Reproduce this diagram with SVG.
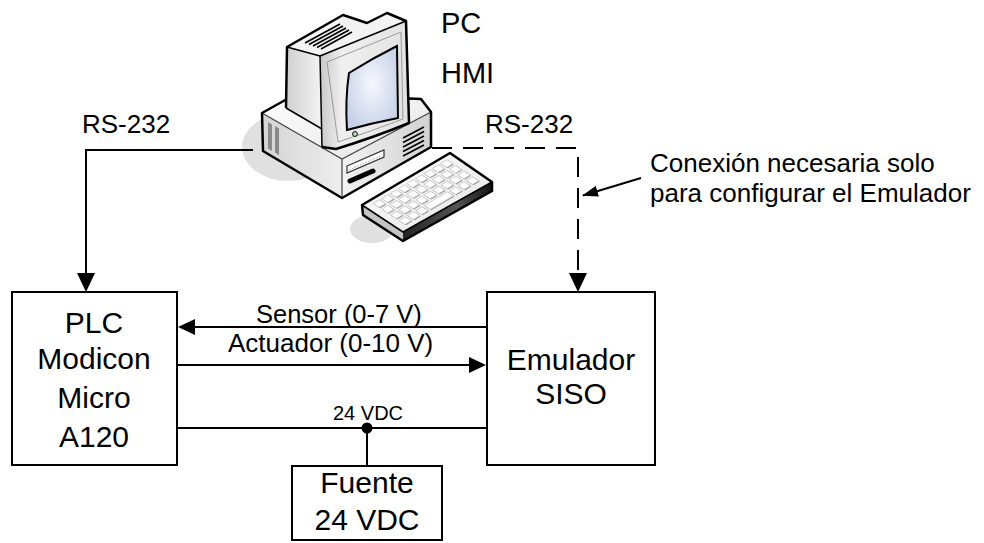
<svg xmlns="http://www.w3.org/2000/svg" width="984" height="543" viewBox="0 0 984 543">
<style>
.t{font-family:"Liberation Sans",Arial,Helvetica,sans-serif;fill:#000}
.lbl{font-size:30px;text-anchor:middle}
.box{fill:#fff;stroke:#000;stroke-width:2}
.w{fill:none;stroke:#000;stroke-width:2}
.k{fill:none;stroke:#000;stroke-width:2.5;stroke-linejoin:round}
.thin{fill:none;stroke:#000;stroke-width:1.5;stroke-linejoin:round}
</style>
<defs>
  <marker id="arrBig" viewBox="0 0 19 18" refX="16" refY="9" markerWidth="19" markerHeight="18" markerUnits="userSpaceOnUse" orient="auto">
    <path d="M0,0 L19,9 L0,18 Z" fill="#000"/>
  </marker>
  <marker id="arr" viewBox="0 0 17 16" refX="15" refY="8" markerWidth="17" markerHeight="16" markerUnits="userSpaceOnUse" orient="auto">
    <path d="M0,0 L17,8 L0,16 Z" fill="#000"/>
  </marker>
  <marker id="arrSmall" viewBox="0 0 16 11" refX="15" refY="5.5" markerWidth="16" markerHeight="11" markerUnits="userSpaceOnUse" orient="auto">
    <path d="M0,0 L16,5.5 L0,11 Z" fill="#000"/>
  </marker>
  <linearGradient id="gTop" x1="0" y1="0" x2="1" y2="1">
    <stop offset="0" stop-color="#ffffff"/>
    <stop offset="1" stop-color="#e4e4e4"/>
  </linearGradient>
  <linearGradient id="gLeft" x1="0" y1="0" x2="1" y2="0">
    <stop offset="0" stop-color="#d4d4d4"/>
    <stop offset="1" stop-color="#eeeeee"/>
  </linearGradient>
  <linearGradient id="gRight" x1="0" y1="0" x2="1" y2="0">
    <stop offset="0" stop-color="#f2f2f2"/>
    <stop offset="1" stop-color="#d2d2d2"/>
  </linearGradient>
  <linearGradient id="gSide" x1="0" y1="0" x2="1" y2="0">
    <stop offset="0" stop-color="#d0d0d0"/>
    <stop offset="1" stop-color="#f4f4f4"/>
  </linearGradient>
  <linearGradient id="gBezel" x1="0" y1="0" x2="1" y2="0">
    <stop offset="0" stop-color="#c8c8c8"/>
    <stop offset="0.25" stop-color="#f0f0f0"/>
    <stop offset="1" stop-color="#e2e2e2"/>
  </linearGradient>
  <radialGradient id="gScreen" cx="0.5" cy="0.45" r="0.6">
    <stop offset="0" stop-color="#f6f8fd"/>
    <stop offset="1" stop-color="#c6d0e8"/>
  </radialGradient>
  <linearGradient id="gKbSide" x1="0" y1="0" x2="1" y2="0">
    <stop offset="0" stop-color="#222"/>
    <stop offset="0.6" stop-color="#555"/>
    <stop offset="1" stop-color="#111"/>
  </linearGradient>
  <g id="key">
    <rect x="0" y="2" width="7.2" height="15" fill="#a0a0a0"/>
    <rect x="0" y="0" width="7.2" height="14.5" fill="#fff" stroke="#b0b0b0" stroke-width="0.6" vector-effect="non-scaling-stroke"/>
  </g>
</defs>

<rect width="984" height="543" fill="#fff"/>

<!-- Computer -->
<g id="pc">
  <ellipse cx="288" cy="147" rx="46" ry="34" fill="#e0e0e0"/>
  <ellipse cx="372" cy="229" rx="22" ry="14" fill="#e0e0e0"/>

  <!-- CPU case -->
  <path d="M262,113 L296,94 L421,99 L431,112 L342,159 Z" fill="url(#gTop)"/>
  <path d="M262,113 L342,159 L342,198 L263,151 Z" fill="url(#gLeft)"/>
  <path d="M342,159 L431,112 L431,147 L342,198 Z" fill="url(#gRight)"/>
  <path d="M262,113 L342,159 L431,112 M342,159 L342,198" fill="none" stroke="#444" stroke-width="1.2"/>
  <path d="M262,113 L296,94 L421,99 L431,112 L431,147 L342,198 L263,151 Z" class="k"/>
  <!-- side vents -->
  <path d="M268,122 L272,124.5 L272,151 L268,148.5 Z" fill="#8a8a8a"/>
  <path d="M275,126 L279,128.5 L279,155 L275,152.5 Z" fill="#8a8a8a"/>
  <!-- drive bay -->
  <path d="M347,166 L384,150 L384,157 L347,173 Z" fill="#fff" stroke="#333" stroke-width="1.2"/>
  <path d="M349,170 L382,155.5" stroke="#999" stroke-width="1" stroke-dasharray="1.5 1.5"/>
  <path d="M350,181 L373,171" stroke="#000" stroke-width="5" stroke-linecap="round"/>
  <!-- front vents -->
  <g stroke="#000" stroke-width="1.6">
    <path d="M403,138 L424,127"/>
    <path d="M403,142.5 L424,131.5"/>
    <path d="M403,147 L424,136"/>
    <path d="M403,151.5 L424,140.5"/>
    <path d="M403,156 L424,145"/>
  </g>

  <!-- Monitor -->
  <path d="M286,108 L287,47 L320,56 L322,130 Z" fill="url(#gSide)"/>
  <path d="M287,47 L343,15 L367,23 L387,13 L406,21 L320,56 Z" fill="#f3f3f3"/>
  <g stroke="#000" stroke-width="1.6">
    <path d="M305,43 L340,24"/>
    <path d="M309,44.5 L343,26"/>
    <path d="M313,46 L346,28"/>
    <path d="M317,47.5 L349,30"/>
    <path d="M321,49 L352,32"/>
  </g>
  <path d="M320,56 L406,22 L409,123 Q375,137 336,149 L322,147 Z" fill="url(#gBezel)"/>
  <path d="M327,62 L401,32 L403,119 Q372,131 338,142 Z" fill="none" stroke="#9a9a9a" stroke-width="1"/>
  <path d="M349,73 Q373,58 397,46 L398,118 Q372,123 347,130 Q345,100 349,73 Z" fill="url(#gScreen)" stroke="#000" stroke-width="2"/>
  <circle cx="355" cy="134" r="2.4" fill="#bfe6bf" stroke="#000" stroke-width="1"/>
  <path d="M286,108 L287,47 L343,15 L367,23 L387,13 L406,21 L409,123 Q375,137 336,149 L322,147" class="k"/>
  <path d="M287,47 L320,56 L406,21 M320,56 L322,147" class="thin" stroke-width="2"/>
  <path d="M286,108 L322,129" class="thin"/>

  <!-- Keyboard -->
  <path d="M362,205 L450,153 L492,182 L403,232 Z" fill="url(#gTop)"/>
  <path d="M362,205 L403,232 L403,241 L363,215 Z" fill="#c4c4c4"/>
  <path d="M403,232 L492,182 L492,191 L403,241 Z" fill="url(#gKbSide)"/>
  <g transform="matrix(0.88,-0.52,0.41,0.27,362,205)">
    <use href="#key" x="8" y="10"/><use href="#key" x="17.6" y="10"/><use href="#key" x="27.2" y="10"/>
    <use href="#key" x="36.8" y="10"/><use href="#key" x="46.4" y="10"/><use href="#key" x="56" y="10"/>
    <use href="#key" x="65.6" y="10"/><use href="#key" x="75.2" y="10"/><use href="#key" x="84.8" y="10"/>
    <use href="#key" x="8" y="31"/><use href="#key" x="17.6" y="31"/><use href="#key" x="27.2" y="31"/>
    <use href="#key" x="36.8" y="31"/><use href="#key" x="46.4" y="31"/><use href="#key" x="56" y="31"/>
    <use href="#key" x="65.6" y="31"/><use href="#key" x="75.2" y="31"/><use href="#key" x="84.8" y="31"/>
    <use href="#key" x="8" y="52"/><use href="#key" x="17.6" y="52"/><use href="#key" x="27.2" y="52"/>
    <use href="#key" x="36.8" y="52"/><use href="#key" x="46.4" y="52"/><use href="#key" x="56" y="52"/>
    <use href="#key" x="65.6" y="52"/><use href="#key" x="75.2" y="52"/><use href="#key" x="84.8" y="52"/>
    <use href="#key" x="8" y="73"/><use href="#key" x="17.6" y="73"/><use href="#key" x="27.2" y="73"/>
    <rect x="36.8" y="75" width="26.4" height="15" fill="#a0a0a0"/>
    <rect x="36.8" y="73" width="26.4" height="14.5" fill="#fff" stroke="#b0b0b0" stroke-width="0.6" vector-effect="non-scaling-stroke"/>
    <use href="#key" x="65.6" y="73"/><use href="#key" x="75.2" y="73"/><use href="#key" x="84.8" y="73"/>
  </g>
  <path d="M362,205 L403,232 L492,182" class="thin"/>
  <path d="M362,205 L450,153 L492,182 L492,191 L403,241 L363,215 Z" class="k"/>

  <text class="t" x="441" y="33" font-size="29">PC</text>
  <text class="t" x="441" y="83" font-size="29">HMI</text>
</g>

<!-- Connectors -->
<g id="connectors">
  <path class="w" d="M253,150 H86 V289" stroke-width="3" marker-end="url(#arrBig)"/>
  <path class="w" d="M432,148 H578 V289" stroke-width="3" stroke-dasharray="20 11" marker-end="url(#arrBig)"/>
  <path class="w" d="M487,327 H180" marker-end="url(#arr)"/>
  <path class="w" d="M177,365 H484" marker-end="url(#arr)"/>
  <path class="w" d="M177,428 H487 M367,428 V466"/>
  <circle cx="367" cy="428" r="5.5" fill="#000"/>
  <path class="w" d="M641,178 L583,195.5" stroke-width="1.6" marker-end="url(#arrSmall)"/>

  <text class="t" x="82" y="133" font-size="26">RS-232</text>
  <text class="t" x="485" y="133" font-size="26">RS-232</text>
  <text class="t" x="256" y="323" font-size="25.5">Sensor (0-7 V)</text>
  <text class="t" x="228" y="352" font-size="26">Actuador (0-10 V)</text>
  <text class="t" x="333" y="420" font-size="20">24 VDC</text>
  <text class="t" x="650" y="172" font-size="26">Conexión necesaria solo</text>
  <text class="t" x="650" y="202" font-size="26">para configurar el Emulador</text>
</g>

<!-- PLC -->
<g id="plc">
  <rect class="box" x="12" y="292" width="165" height="173"/>
  <text class="t lbl" x="94" y="333">PLC</text>
  <text class="t lbl" x="94" y="369">Modicon</text>
  <text class="t lbl" x="94" y="408">Micro</text>
  <text class="t lbl" x="94" y="447">A120</text>
</g>

<!-- Emulator -->
<g id="emulador">
  <rect class="box" x="487" y="292" width="168" height="173"/>
  <text class="t lbl" x="571" y="370">Emulador</text>
  <text class="t lbl" x="571" y="404">SISO</text>
</g>

<!-- Power supply -->
<g id="fuente">
  <rect class="box" x="292" y="466" width="150" height="74"/>
  <text class="t lbl" x="367" y="493">Fuente</text>
  <text class="t lbl" x="367" y="530">24 VDC</text>
</g>
</svg>
